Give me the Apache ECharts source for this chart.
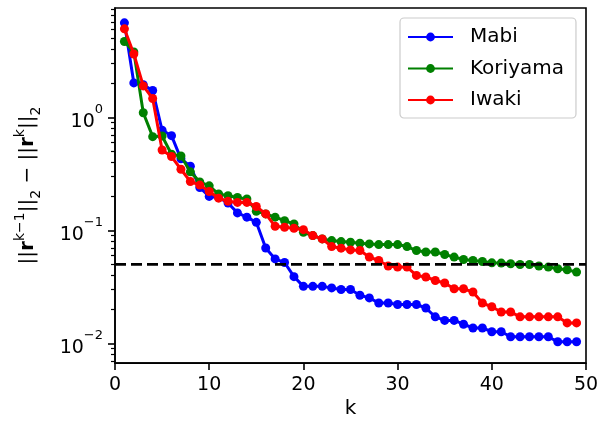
<!DOCTYPE html>
<html>
<head>
<meta charset="utf-8">
<script src="https://cdn.jsdelivr.net/npm/echarts@6/dist/echarts.min.js"></script>
<style>html,body{margin:0;padding:0;background:#fff;}#c{width:615px;height:424px;}</style>
</head>
<body>
<div id="c"></div>
<script>
const ks = [1,2,3,4,5,6,7,8,9,10,11,12,13,14,15,16,17,18,19,20,21,22,23,24,25,26,27,28,29,30,31,32,33,34,35,36,37,38,39,40,41,42,43,44,45,46,47,48,49];
const mabi = [6.87,2.02,1.95,1.73,0.77,0.69,0.43,0.37,0.24,0.20,0.196,0.175,0.143,0.131,0.118,0.070,0.056,0.052,0.039,0.032,0.032,0.032,0.031,0.030,0.030,0.0267,0.0253,0.0228,0.0228,0.0221,0.0221,0.0221,0.0206,0.0172,0.016,0.016,0.0148,0.0137,0.0137,0.0127,0.0127,0.01145,0.01145,0.01145,0.01145,0.01145,0.01035,0.01035,0.01035];
const koriyama = [4.7,3.79,1.1,0.676,0.685,0.472,0.456,0.33,0.269,0.248,0.21,0.203,0.196,0.19,0.148,0.14,0.131,0.122,0.114,0.0964,0.090,0.0841,0.0813,0.0797,0.0787,0.0771,0.076,0.075,0.075,0.075,0.072,0.0664,0.0645,0.0645,0.0612,0.0581,0.0553,0.0542,0.0531,0.0517,0.0514,0.0507,0.05,0.05,0.0484,0.0474,0.0458,0.0449,0.0428];
const iwaki = [6.08,3.64,1.9,1.47,0.515,0.451,0.348,0.271,0.252,0.221,0.193,0.181,0.177,0.177,0.163,0.14,0.109,0.1067,0.1046,0.1016,0.090,0.0841,0.072,0.0697,0.0673,0.0664,0.0581,0.0542,0.0484,0.0474,0.0474,0.040,0.0387,0.0361,0.0343,0.0305,0.0305,0.0285,0.0228,0.0211,0.019,0.019,0.0172,0.0172,0.0172,0.0172,0.0172,0.0152,0.0152];
const threshold = 0.05;
const xTicks = [0,10,20,30,40,50];
const yMajor = [0.01,0.1,1];
const yMinor = [0.007,0.008,0.009,0.02,0.03,0.04,0.05,0.06,0.07,0.08,0.09,0.2,0.3,0.4,0.5,0.6,0.7,0.8,0.9,2,3,4,5,6,7,8,9];
const names = ['Mabi','Koriyama','Iwaki'];
const colors = ['#0000ff','#008000','#ff0000'];

const FONT = 'DejaVu Sans';
const chart = echarts.init(document.getElementById('c'), null, {renderer:'canvas'});
function pairs(arr){ return arr.map((v,i)=>[ks[i], v]); }
function supLabel(v){
  const e = Math.round(Math.log10(v));
  return '{b|10}{s|' + (e < 0 ? '\u2212' + (-e) : String(e)) + '}';
}
const yMin = 0.0067, yMax = 9.3;
const series = [mabi, koriyama, iwaki].map((arr, i) => ({
  name: names[i], type: 'line', data: pairs(arr),
  symbol: 'circle', symbolSize: 9, showSymbol: true,
  lineStyle: {color: colors[i], width: 3},
  itemStyle: {color: colors[i]},
  z: 2 + i, animation: false
}));
series.push({
  name: 'thr', type: 'line', data: [[xTicks[0], threshold],[xTicks[xTicks.length-1], threshold]],
  symbol: 'none', lineStyle: {color: '#000', width: 2.8, type: [11,5]}, z: 10, animation: false, silent: true
});
chart.setOption({
  animation: false,
  grid: {left: 115, right: 29, top: 8, bottom: 59, show: true, borderColor: '#000', borderWidth: 1.6, backgroundColor: 'transparent'},
  legend: {
    data: names, orient: 'vertical', left: 400, top: 18,
    padding: [9, 12, 8, 7], itemWidth: 45, itemHeight: 11, itemGap: 11.5,
    backgroundColor: 'rgba(255,255,255,0.85)', borderColor: '#cccccc', borderWidth: 1.2, borderRadius: 4,
    textStyle: {fontFamily: FONT, fontSize: 20, color: '#000', lineHeight: 20, padding: [0,0,0,12]}
  },
  xAxis: {
    type: 'value', min: 0, max: 50, interval: 10,
    name: 'k', nameLocation: 'middle', nameGap: 33,
    nameTextStyle: {fontFamily: FONT, fontSize: 20, color: '#000'},
    axisLine: {show: true, onZero: false, lineStyle: {color: '#000', width: 1.6}},
    axisTick: {show: true, inside: false, length: 7, lineStyle: {color: '#000', width: 1.6}},
    axisLabel: {fontFamily: FONT, fontSize: 19, color: '#000', margin: 12},
    splitLine: {show: false}
  },
  yAxis: [{
    type: 'log', logBase: 10, min: yMin, max: yMax,
    name: '{n|||}{b|r}{p|k\u22121}{n|||}{q|2}{n| \u2212 ||}{b|r}{p|k}{n|||}{q|2}',
    nameLocation: 'middle', nameRotate: 90, nameGap: 72,
    nameTextStyle: {fontFamily: FONT, color: '#000', rich: {
      n: {fontFamily: FONT, fontSize: 20, lineHeight: 30, verticalAlign: 'middle', color: '#000'},
      b: {fontFamily: FONT, fontSize: 20, fontWeight: 'bold', lineHeight: 30, verticalAlign: 'middle', color: '#000'},
      p: {fontFamily: FONT, fontSize: 14, lineHeight: 14, verticalAlign: 'top', color: '#000'},
      q: {fontFamily: FONT, fontSize: 14, lineHeight: 16, verticalAlign: 'bottom', color: '#000'}
    }},
    axisLine: {show: true, onZero: false, lineStyle: {color: '#000', width: 1.6}},
    axisTick: {show: true, inside: false, length: 7, customValues: yMajor, lineStyle: {color: '#000', width: 1.6}},
    axisLabel: {customValues: yMajor, margin: 12, formatter: supLabel, rich: {
      b: {fontFamily: FONT, fontSize: 19, lineHeight: 28, verticalAlign: 'bottom', color: '#000'},
      s: {fontFamily: FONT, fontSize: 13, lineHeight: 13, verticalAlign: 'top', color: '#000'}
    }},
    splitLine: {show: false}
  }, {
    type: 'log', logBase: 10, min: yMin, max: yMax, position: 'left',
    axisLine: {show: false},
    axisTick: {show: true, inside: false, length: 4, customValues: yMinor, lineStyle: {color: '#000', width: 1.2}},
    axisLabel: {show: false},
    splitLine: {show: false}
  }],
  series: series
});
</script>
</body>
</html>
